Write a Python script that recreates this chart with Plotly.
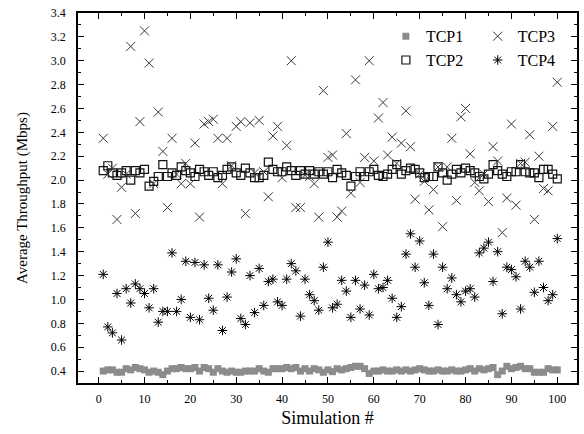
import plotly.graph_objects as go

sim = list(range(1, 101))

tcp1 = [0.40,0.41,0.41,0.39,0.39,0.42,0.41,0.43,0.42,0.41,
        0.39,0.40,0.39,0.37,0.40,0.42,0.42,0.43,0.42,0.42,
        0.43,0.40,0.43,0.42,0.39,0.42,0.40,0.39,0.40,0.39,
        0.39,0.40,0.40,0.40,0.42,0.40,0.39,0.42,0.42,0.42,
        0.43,0.42,0.43,0.40,0.42,0.40,0.42,0.41,0.39,0.41,
        0.395,0.42,0.41,0.42,0.43,0.44,0.44,0.42,0.38,0.40,
        0.40,0.41,0.40,0.40,0.41,0.40,0.41,0.40,0.41,0.42,
        0.41,0.40,0.40,0.41,0.40,0.40,0.41,0.40,0.40,0.41,
        0.42,0.40,0.42,0.41,0.42,0.43,0.37,0.40,0.44,0.42,
        0.43,0.44,0.42,0.42,0.39,0.39,0.39,0.42,0.41,0.41]

tcp2 = [2.08,2.12,2.06,2.04,2.06,2.08,2.00,2.08,2.06,2.09,
        1.95,1.99,2.03,2.13,2.03,2.06,2.04,2.11,2.08,2.06,
        2.03,2.09,2.07,2.04,2.07,2.02,2.04,2.09,2.11,2.06,
        2.04,2.10,2.06,2.02,2.02,2.04,2.15,2.09,2.07,2.07,
        2.11,2.08,2.04,2.08,2.05,2.08,2.05,2.07,2.05,2.07,
        2.02,2.09,2.06,2.04,1.95,2.03,2.07,2.03,2.07,2.09,
        2.04,2.03,2.05,2.09,2.13,2.05,2.08,2.10,2.09,2.06,
        2.02,2.03,2.03,2.11,2.06,2.00,2.05,2.09,2.06,2.10,
        2.08,2.06,2.03,2.01,2.05,2.13,2.08,2.05,2.03,2.07,
        2.07,2.13,2.07,2.06,2.06,2.02,2.09,2.09,2.05,2.01]

tcp3 = [2.35,2.05,2.10,1.67,1.94,2.05,3.12,1.72,2.49,3.25,
        2.98,1.97,2.57,2.24,1.77,2.35,2.05,1.97,2.14,1.97,
        2.31,1.69,2.47,2.49,2.51,2.35,1.97,2.35,2.12,2.45,
        2.49,1.72,2.48,2.06,2.50,2.07,1.86,2.37,2.45,2.02,
        2.29,3.00,1.77,1.77,2.04,2.03,1.97,1.69,2.75,2.19,
        2.21,1.69,1.74,2.39,1.89,2.84,1.98,2.19,3.00,2.16,
        2.52,2.65,2.21,2.36,2.14,2.31,2.58,2.28,1.84,2.05,
        1.99,1.75,1.92,2.11,1.61,2.11,2.35,1.83,2.53,2.60,
        2.22,1.98,1.91,2.05,1.82,2.28,2.16,1.56,1.85,2.47,
        1.79,2.14,2.15,2.38,1.67,2.20,1.93,1.91,2.45,2.82]

tcp4 = [1.21,0.77,0.72,1.05,0.66,1.09,0.97,1.13,1.09,1.05,
        0.93,1.09,0.81,0.90,0.90,1.39,0.90,1.00,1.32,0.85,
        1.31,0.83,1.29,1.01,0.91,1.29,0.74,1.02,1.23,1.34,
        0.84,0.79,1.20,0.89,1.26,0.95,1.15,1.17,0.98,0.95,
        1.17,1.30,1.24,0.86,1.17,1.04,0.99,0.91,1.27,1.48,
        0.93,0.96,1.16,1.07,0.85,1.16,0.92,1.12,0.87,1.21,
        1.09,1.10,1.16,1.01,0.85,0.94,1.38,1.55,1.27,1.49,
        1.14,0.95,1.38,0.79,1.27,1.09,1.18,1.04,0.98,1.07,
        1.09,1.02,1.39,1.43,1.48,1.15,1.40,0.88,1.27,1.25,
        1.19,0.92,1.32,1.27,1.06,1.32,1.10,0.99,1.04,1.51]

FONT = "Liberation Serif, Times New Roman, serif"

fig = go.Figure()
fig.add_trace(go.Scatter(
    x=sim, y=tcp1, mode="markers", name="TCP1", legend="legend",
    marker=dict(symbol="square", size=7, color="#8c8c8c", line=dict(width=0))))
fig.add_trace(go.Scatter(
    x=sim, y=tcp2, mode="markers", name="TCP2", legend="legend",
    marker=dict(symbol="square-open", size=8, color="#111111", line=dict(width=1.2))))
fig.add_trace(go.Scatter(
    x=sim, y=tcp3, mode="markers", name="TCP3", legend="legend2",
    marker=dict(symbol="x-thin-open", size=9, color="#3a3a3a", line=dict(width=1))))
fig.add_trace(go.Scatter(
    x=sim, y=tcp4, mode="markers", name="TCP4", legend="legend2",
    marker=dict(symbol="asterisk-open", size=8, color="#000000", line=dict(width=1))))

axis_common = dict(
    showline=True, linecolor="black", linewidth=1.5, mirror="allticks",
    ticks="inside", ticklen=6, tickwidth=1.2, tickcolor="black",
    showgrid=False, zeroline=False, automargin=False,
    tickfont=dict(family=FONT, size=12, color="black"),
)

fig.update_xaxes(
    range=[-4.5, 104.3], tick0=0, dtick=10, ticklabelstandoff=4,
    minor=dict(dtick=5, ticks="inside", ticklen=3, tickcolor="black", tickwidth=1.2),
    title=dict(text="Simulation #", font=dict(family=FONT, size=18, color="black"), standoff=6),
    **axis_common)
fig.update_yaxes(
    range=[0.3, 3.4], tick0=0.4, dtick=0.2, tickformat=".1f", ticklabelstandoff=8,
    minor=dict(dtick=0.1, ticks="inside", ticklen=3, tickcolor="black", tickwidth=1.2),
    title=dict(text="Average Throughput (Mbps)", font=dict(family=FONT, size=15, color="black"), standoff=20),
    **axis_common)

legend_common = dict(
    bgcolor="rgba(0,0,0,0)", borderwidth=0, orientation="v",
    font=dict(family=FONT, size=16, color="black"),
    xanchor="left", yanchor="top", tracegroupgap=0, itemwidth=30,
)

fig.update_layout(
    width=584, height=434,
    margin=dict(l=78, r=7, t=13, b=51),
    paper_bgcolor="white", plot_bgcolor="white",
    showlegend=True,
    legend=dict(x=0.617, y=0.983, **legend_common),
    legend2=dict(x=0.801, y=0.983, **legend_common),
)

fig.write_html(
    "out.html",
    config={"displayModeBar": False},
    post_script="document.body.style.margin='0px';document.body.style.overflow='hidden';",
)
